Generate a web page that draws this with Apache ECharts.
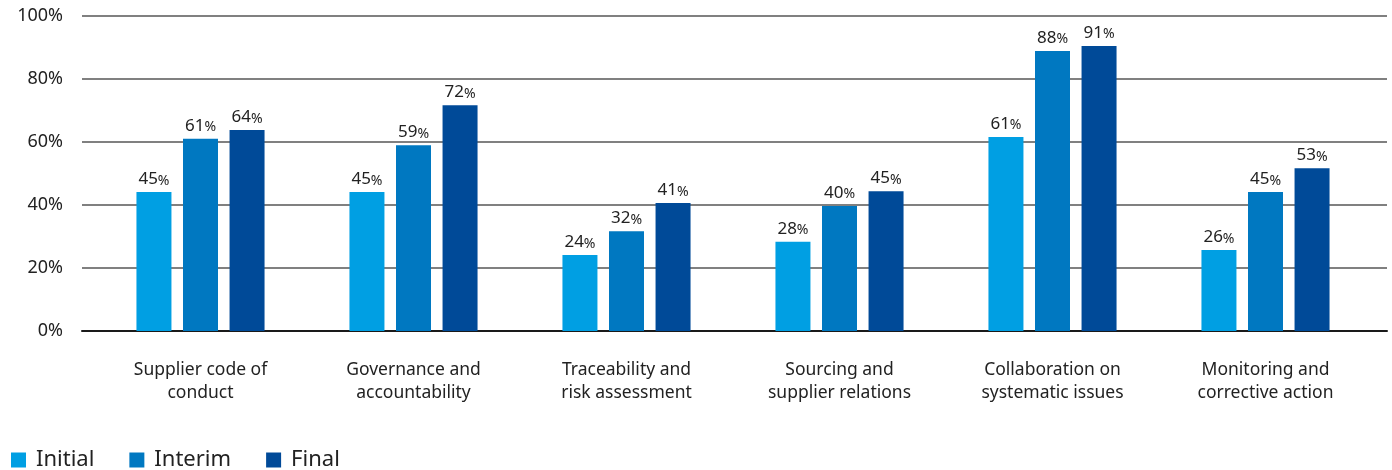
<!DOCTYPE html>
<html>
<head>
<meta charset="utf-8">
<title>Supplier engagement progress</title>
<script src="https://cdn.jsdelivr.net/npm/echarts@6/dist/echarts.min.js"></script>
<style>
  html, body { margin: 0; padding: 0; background: #fff; }
  #chart { width: 1392px; height: 470px; }
</style>
</head>
<body>
<div id="chart"></div>
<script>
// categories and series (bar heights, labels as printed)
var categories = [
  'Supplier code of\nconduct',
  'Governance and\naccountability',
  'Traceability and\nrisk assessment',
  'Sourcing and\nsupplier relations',
  'Collaboration on\nsystematic issues',
  'Monitoring and\ncorrective action'
];
var seriesNames = ['Initial', 'Interim', 'Final'];
var initialVals = [44.1, 44.1, 24.1, 28.3, 61.6, 25.7];
var interimVals = [61.0, 59.0, 31.7, 39.7, 88.9, 44.1];
var finalVals   = [63.8, 71.7, 40.6, 44.4, 90.5, 51.7];
var initialLabels = [45, 45, 24, 28, 61, 26];
var interimLabels = [61, 59, 32, 40, 88, 45];
var finalLabels   = [64, 72, 41, 45, 91, 53];
var yTicks = [0, 20, 40, 60, 80, 100];

var colors = ['#009fe3', '#0078c1', '#004a98'];
var font = '"Noto Sans", "Open Sans", sans-serif';
var numFont = '"Noto Sans", sans-serif';

function makeSeries(name, vals, labels, color) {
  return {
    name: name,
    type: 'bar',
    xAxisIndex: 1,
    yAxisIndex: 1,
    barWidth: 35,
    barGap: '33%',
    itemStyle: { color: color },
    label: {
      show: true,
      position: 'top',
      distance: 4,
      formatter: function (p) { return '{n|' + labels[p.dataIndex] + '}{p|%}'; },
      rich: {
        n: { fontSize: 17, color: '#222', fontFamily: numFont },
        p: { fontSize: 14, color: '#222', fontFamily: numFont, padding: [2, 0, 0, 0] }
      }
    },
    data: vals
  };
}

var myChart = echarts.init(document.getElementById('chart'));
var option = {
  animation: false,
  grid: [
    { left: 82, right: 5, top: 16, height: 315 },
    { left: 94, width: 1278, top: 16, height: 315 }
  ],
  legend: {
    left: 6,
    top: 444,
    itemWidth: 15,
    itemHeight: 15,
    itemGap: 35,
    icon: 'rect',
    data: seriesNames,
    textStyle: { fontSize: 22, color: '#222', fontFamily: font, padding: [0, 0, 0, 5] }
  },
  xAxis: [
    {
      gridIndex: 0,
      type: 'value',
      show: true,
      min: 0, max: 1,
      axisLabel: { show: false },
      axisTick: { show: false },
      splitLine: { show: false },
      axisLine: { show: true, lineStyle: { color: '#1a1a1a', width: 2 } }
    },
    {
      gridIndex: 1,
      type: 'category',
      data: categories,
      axisLine: { show: false },
      axisTick: { show: false },
      axisLabel: {
        margin: 28,
        fontSize: 17.5,
        lineHeight: 23,
        color: '#222',
        fontFamily: font
      }
    }
  ],
  yAxis: [
    {
      gridIndex: 0,
      type: 'value',
      min: yTicks[0],
      max: yTicks[yTicks.length - 1],
      interval: 20,
      axisLine: { show: false },
      axisTick: { show: false },
      axisLabel: {
        margin: 19,
        fontSize: 18,
        color: '#222',
        fontFamily: numFont,
        formatter: '{value}%'
      },
      splitLine: { lineStyle: { color: '#808080', width: 2 } }
    },
    {
      gridIndex: 1,
      type: 'value',
      min: 0, max: 100,
      show: false,
      splitLine: { show: false }
    }
  ],
  series: [
    makeSeries(seriesNames[0], initialVals, initialLabels, colors[0]),
    makeSeries(seriesNames[1], interimVals, interimLabels, colors[1]),
    makeSeries(seriesNames[2], finalVals, finalLabels, colors[2])
  ]
};
myChart.setOption(option);
</script>
</body>
</html>
